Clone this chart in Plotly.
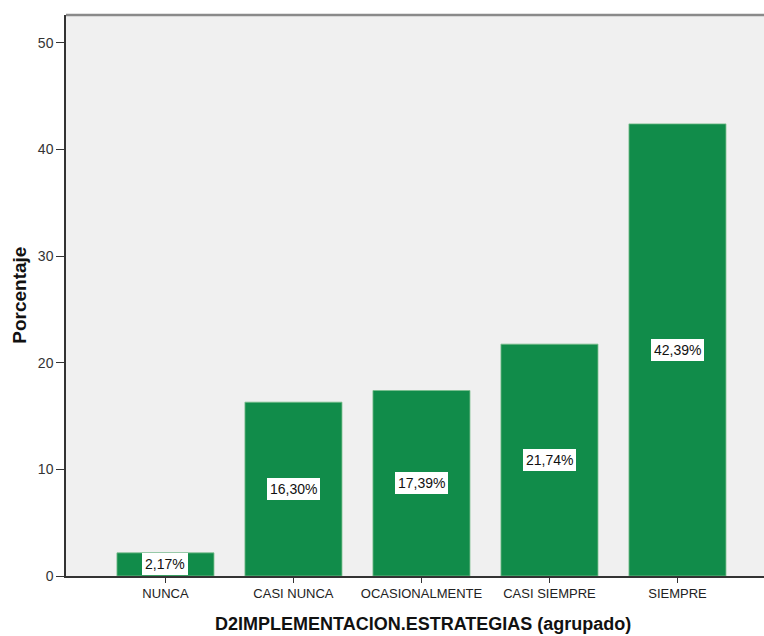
import plotly.graph_objects as go

categories = ["NUNCA", "CASI NUNCA", "OCASIONALMENTE", "CASI SIEMPRE", "SIEMPRE"]
percentages = [2.17, 16.30, 17.39, 21.74, 42.39]
y_ticks = [0, 10, 20, 30, 40, 50]

bar_color = "rgb(17,140,74)"
font_family = "Liberation Sans, Arial, sans-serif"

fig = go.Figure()
fig.add_trace(go.Bar(
    x=list(range(len(categories))),
    y=percentages,
    width=0.758,
    marker=dict(color=bar_color, line=dict(color="rgb(120,190,140)", width=0.8)),
    hoverinfo="skip",
))

# value labels in white boxes at the middle of each bar
for i, v in enumerate(percentages):
    fig.add_annotation(
        x=i, y=v / 2, xref="x", yref="y",
        text=f"{v:.2f}".replace(".", ",") + "%",
        showarrow=False,
        font=dict(family=font_family, size=14, color="#111"),
        bgcolor="white", borderpad=3, borderwidth=0,
    )

# axis titles
fig.add_annotation(
    x=0.511, y=-0.085, xref="paper", yref="paper",
    text="<b>D2IMPLEMENTACION.ESTRATEGIAS (agrupado)</b>",
    showarrow=False, xanchor="center", yanchor="middle",
    font=dict(family=font_family, size=18, color="#111"),
)
fig.add_annotation(
    x=-0.067, y=0.5, xref="paper", yref="paper",
    text="<b>Porcentaje</b>", textangle=-90,
    showarrow=False, xanchor="center", yanchor="middle",
    font=dict(family=font_family, size=19, color="#111"),
)

# gray frame line along the top of the plot area
fig.add_shape(type="line", xref="paper", yref="paper",
              x0=0, x1=1, y0=1, y1=1,
              line=dict(color="#8a8a8a", width=2.5))

fig.update_layout(
    width=764, height=636,
    margin=dict(l=66, r=0, t=15, b=60),
    paper_bgcolor="white",
    plot_bgcolor="#F0F0F0",
    showlegend=False,
    xaxis=dict(
        range=[-0.777, 4.676],
        tickmode="array",
        tickvals=list(range(len(categories))),
        ticktext=categories,
        ticks="outside", ticklen=5, tickwidth=1.2, tickcolor="#333",
        showline=True, linecolor="#333", linewidth=1.5,
        showgrid=False, zeroline=False,
        tickfont=dict(family=font_family, size=13, color="#222"),
        fixedrange=True,
    ),
    yaxis=dict(
        range=[0, 52.6],
        tickmode="array",
        tickvals=y_ticks,
        ticks="outside", ticklen=8, tickwidth=1.2, tickcolor="#333",
        showline=True, linecolor="#333", linewidth=1.5,
        showgrid=False, zeroline=False,
        tickfont=dict(family=font_family, size=14, color="#333"),
        fixedrange=True,
    ),
)

fig.write_html("out.html")
